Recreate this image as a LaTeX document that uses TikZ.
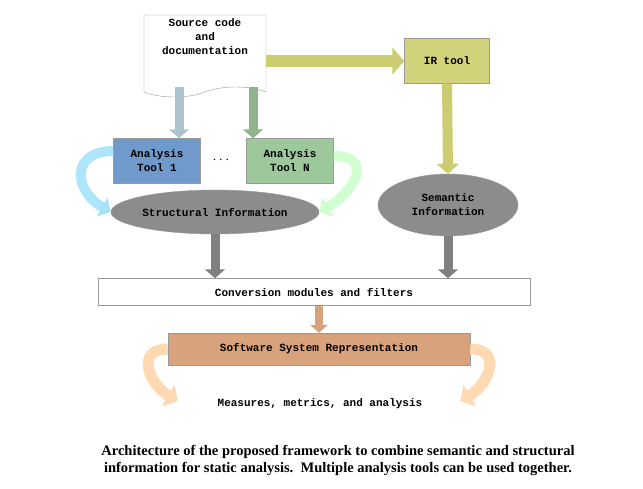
\documentclass[tikz,border=0pt]{standalone}
\usepackage{fontspec}
\setmainfont{Liberation Serif}
\newfontfamily\codefont{Liberation Mono}
\usetikzlibrary{arrows.meta,shapes.geometric,shapes.symbols}
\definecolor{iryellow}{HTML}{D2D27A}
\definecolor{arryellow}{HTML}{CCCC70}
\definecolor{toolblue}{HTML}{7099CC}
\definecolor{toolgreen}{HTML}{9CC89C}
\definecolor{infogray}{HTML}{8C8C8C}
\definecolor{swbrown}{HTML}{D8A27C}
\tikzstyle{box}=[draw=black!40,font=\codefont\bfseries\fontsize{11}{14}\selectfont,align=center,inner sep=2pt]
\tikzstyle{tool}=[box,minimum width=87pt,minimum height=45pt]
\tikzstyle{info}=[ellipse,draw=black!40,fill=infogray,inner sep=1pt,font=\codefont\bfseries\fontsize{11}{14}\selectfont,align=center]
\tikzstyle{fat}=[line width=#1,-{Triangle[width=2.2*#1,length=#1]}]
\begin{document}
\begin{tikzpicture}[x=1pt,y=-1pt]
\useasboundingbox (0,0) rectangle (643,488);

\node [box,fill=white,tape,tape bend top=none,tape bend height=10pt,minimum width=122pt,minimum height=82pt,text depth=28pt] (source) at (205,51) {Source code\\and\\documentation};
\node [box,fill=iryellow,minimum width=85pt,minimum height=45pt] (irtool) at (447,61) {IR tool};
\node [tool,fill=toolblue] (tool1) at (157,161) {Analysis\\Tool 1};
\node [tool,fill=toolgreen] (toolN) at (290,161) {Analysis\\Tool N};
\node [font=\bfseries\Large] (dots) at (221,160) {$\cdots$};
\node [info,minimum width=200pt,minimum height=44pt] (struct) at (215,212) {Structural Information};
\node [info,minimum width=140pt,minimum height=62pt] (sem) at (448,205) {Semantic\\Information};
\node [box,fill=white,minimum width=432pt,minimum height=27pt] (conv) at (314,292) {Conversion modules and filters};
\node [box,fill=swbrown,minimum width=302pt,minimum height=32pt] (soft) at (319,349) {Software System Representation};
\node [font=\codefont\bfseries\fontsize{11}{14}\selectfont] (meas) at (320,404) {Measures, metrics, and analysis};
\node [font=\bfseries\fontsize{14.5}{17}\selectfont,align=center] (caption) at (338,460) {Architecture of the proposed framework to combine semantic and structural\\information for static analysis.\ \ Multiple analysis tools can be used together.};

\draw [fat=12pt,arryellow] (source.east |- irtool) -- (irtool.west);
\draw [fat=10pt,arryellow] (irtool.south) -- (sem.north);
\draw [fat=9pt,cyan!30!gray!60] (source.south -| tool1) ++(22,0) coordinate (s1) -- (s1 |- tool1.north);
\draw [fat=9pt,toolgreen!90!black] (source.south -| toolN) ++(-37,0) coordinate (s2) -- (s2 |- toolN.north);
\draw [fat=10pt,cyan!40,opacity=.8] (tool1.west) ++(0,-10) to[out=180,in=150,looseness=1.8] (struct.west);
\draw [fat=10pt,green!20,opacity=.9] (toolN.east) ++(0,-5) to[out=0,in=30,looseness=1.8] (struct.east);
\draw [fat=9pt,gray] (struct.south) -- (struct.south |- conv.north);
\draw [fat=9pt,gray] (sem.south) -- (sem.south |- conv.north);
\draw [fat=8pt,swbrown] (conv.south -| soft) -- (soft.north);
\draw [fat=11pt,orange!30] (soft.west) to[out=180,in=150,looseness=1.6] ++(10,52);
\draw [fat=11pt,orange!30] (soft.east) to[out=0,in=30,looseness=1.6] ++(-10,52);
\end{tikzpicture}
\end{document}
